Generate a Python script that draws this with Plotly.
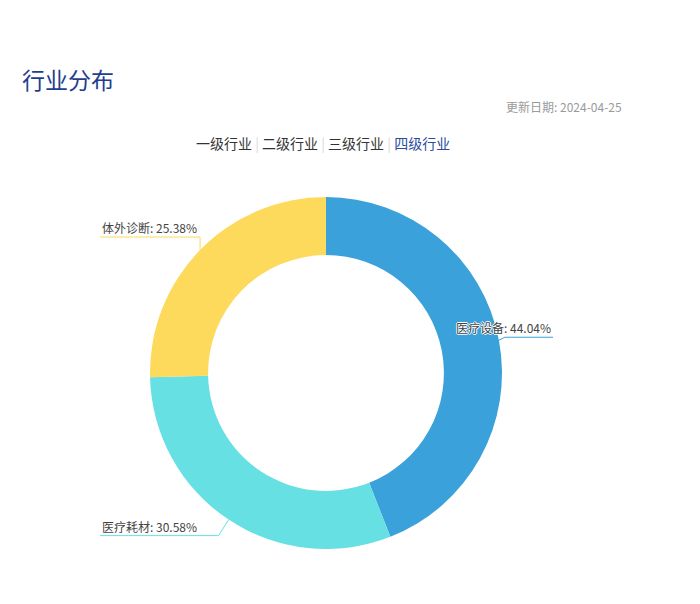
import math
import plotly.graph_objects as go

# ---- data ----
categories = ["医疗设备", "医疗耗材", "体外诊断"]
shares = [44.04, 30.58, 25.38]
colors = ["#3ba1da", "#66e0e3", "#fdd95c"]
tabs = ["一级行业", "二级行业", "三级行业", "四级行业"]
active_tab = "四级行业"
title_text = "行业分布"
date_text = "更新日期: 2024-04-25"

W, H = 700, 604
CX, CY, R = 326, 373, 176
HOLE = 0.67
FONT = "Microsoft YaHei, Noto Sans CJK SC, sans-serif"


def px(x):
    return x / W


def py(y):
    return 1 - y / H


fig = go.Figure(go.Pie(
    labels=categories, values=shares, marker=dict(colors=colors, line=dict(width=0)),
    hole=HOLE, sort=False, direction="clockwise", rotation=0,
    textinfo="none", hoverinfo="label+percent", showlegend=False,
    domain=dict(x=[px(CX - R), px(CX + R)], y=[py(CY + R), py(CY - R)]),
))

# label layout: (elbow dx, elbow dy, end x, side)
label_style = {
    "医疗设备": (6, -3, 553, "right"),
    "医疗耗材": (-10, 16, 100, "left"),
    "体外诊断": (0, -13, 100, "left"),
}

shapes = []
annotations = []
total = sum(shares)
cum = 0
for cat, val, col in zip(categories, shares, colors):
    mid = (cum + val / 2) / total * 2 * math.pi
    cum += val
    sx = CX + R * math.sin(mid)
    sy = CY - R * math.cos(mid)
    dx, dy, ex, side = label_style[cat]
    elx, ely = sx + dx, sy + dy
    shapes.append(dict(type="line", xref="paper", yref="paper",
                       x0=px(sx), y0=py(sy), x1=px(elx), y1=py(ely),
                       line=dict(color=col, width=1)))
    shapes.append(dict(type="line", xref="paper", yref="paper",
                       x0=px(elx), y0=py(ely), x1=px(ex), y1=py(ely),
                       line=dict(color=col, width=1)))
    annotations.append(dict(
        text=f"{cat}: {val:.2f}%", xref="paper", yref="paper",
        x=px(ex), y=py(ely + 1), xanchor="left" if side == "left" else "right",
        yanchor="bottom", showarrow=False,
        font=dict(family=FONT, size=12, color="#444",
                  shadow="1px 0 0 #fff, -1px 0 0 #fff, 0 1px 0 #fff, 0 -1px 0 #fff"),
    ))

annotations.append(dict(text=title_text, xref="paper", yref="paper", x=px(20), y=py(79),
                        xanchor="left", yanchor="middle", showarrow=False,
                        font=dict(family=FONT, size=23, color="#1f3e8f")))
annotations.append(dict(text=date_text, xref="paper", yref="paper", x=px(624), y=py(106),
                        xanchor="right", yanchor="middle", showarrow=False,
                        font=dict(family=FONT, size=12, color="#9a9a9a")))

sep = " <span style='color:#d8d8d8'>|</span> "
parts = []
for t in tabs:
    if t == active_tab:
        parts.append(f"<span style='color:#2c4d9c'>{t}</span>")
    else:
        parts.append(t)
annotations.append(dict(text=sep.join(parts), xref="paper", yref="paper", x=px(323), y=py(143),
                        xanchor="center", yanchor="middle", showarrow=False,
                        font=dict(family=FONT, size=14, color="#333")))

fig.update_layout(
    width=W, height=H, margin=dict(l=0, r=0, t=0, b=0),
    paper_bgcolor="white", plot_bgcolor="white",
    shapes=shapes, annotations=annotations,
)

fig.write_html("out.html")
